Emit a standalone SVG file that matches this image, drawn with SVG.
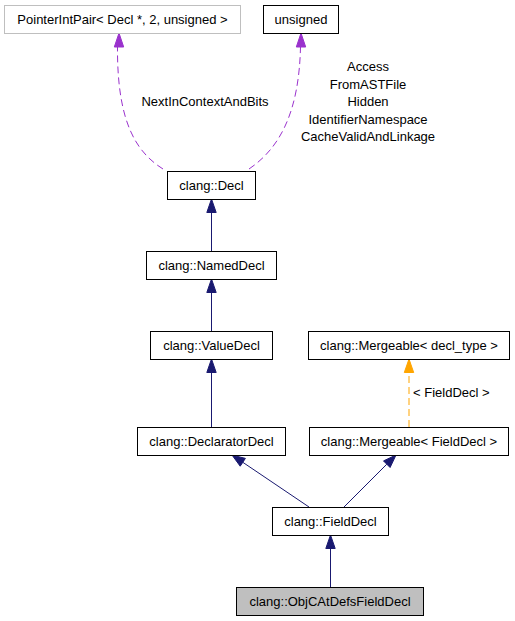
<svg xmlns="http://www.w3.org/2000/svg" width="515" height="621" viewBox="0 0 515 621">
<style>
text{font-family:"Liberation Sans",Arial,sans-serif;font-size:13px;fill:#000}
.n text{text-anchor:middle}
.box{fill:#fff;stroke:#000;stroke-width:1}
.gray{stroke:#bfbfbf}
.cur{fill:#bfbfbf}
.inh{stroke:#191970;fill:none;stroke-width:1}
.inhh{fill:#191970;stroke:#191970}
.use{stroke:#9a32cd;fill:none;stroke-dasharray:7,4}
.useh{fill:#9a32cd;stroke:#9a32cd}
.tpl{stroke:#ffa500;fill:none;stroke-dasharray:7,4}
.tplh{fill:#ffa500;stroke:#ffa500}
.lbl{text-anchor:middle}
</style>
<rect width="515" height="621" fill="#fff"/>
<g id="edges">
  <path class="use" d="M163,169 C136,152 117,122 117.5,47"/>
  <polygon class="useh" points="119,33 114.3,47 123.7,47"/>
  <text x="205" y="106" class="lbl">NextInContextAndBits</text>
  <path class="use" d="M249,169 C280,148 299,112 300.5,47"/>
  <polygon class="useh" points="301,33 296.3,47 305.7,47"/>
  <text class="lbl" x="368" y="71">Access</text>
  <text class="lbl" x="368" y="88.5">FromASTFile</text>
  <text class="lbl" x="368" y="106">Hidden</text>
  <text class="lbl" x="368" y="123.5">IdentifierNamespace</text>
  <text class="lbl" x="368" y="141">CacheValidAndLinkage</text>
  <path class="inh" d="M211.5,251 V212"/>
  <polygon class="inhh" points="211.5,199 206.8,212.5 216.2,212.5"/>
  <path class="inh" d="M211.5,331 V292"/>
  <polygon class="inhh" points="211.5,279 206.8,292.5 216.2,292.5"/>
  <path class="inh" d="M211.5,427 V372"/>
  <polygon class="inhh" points="211.5,359 206.8,372.5 216.2,372.5"/>
  <path class="tpl" d="M409,427 V372"/>
  <polygon class="tplh" points="409,359 404.3,372.5 413.7,372.5"/>
  <text x="413" y="397">&lt; FieldDecl &gt;</text>
  <path class="inh" d="M309,507 L242.8,462.3"/>
  <polygon class="inhh" points="232,455 245.4,458.4 240.2,466.2"/>
  <path class="inh" d="M344,507 L386.8,464.2"/>
  <polygon class="inhh" points="396,455 390.1,467.5 383.5,460.9"/>
  <path class="inh" d="M330.5,587 V548"/>
  <polygon class="inhh" points="330.5,535 325.8,548.5 335.2,548.5"/>
</g>
<g id="PointerIntPair" class="n"><rect class="box gray" x="4.5" y="5.5" width="236" height="28"/><text x="122.5" y="24">PointerIntPair&lt; Decl *, 2, unsigned &gt;</text></g>
<g id="unsigned" class="n"><rect class="box" x="263.5" y="5.5" width="75" height="28"/><text x="301" y="24">unsigned</text></g>
<g id="Decl" class="n"><rect class="box" x="167.5" y="171.5" width="88" height="28"/><text x="211.5" y="190">clang::Decl</text></g>
<g id="NamedDecl" class="n"><rect class="box" x="146.5" y="251.5" width="130" height="28"/><text x="211.5" y="270">clang::NamedDecl</text></g>
<g id="ValueDecl" class="n"><rect class="box" x="150.5" y="331.5" width="122" height="28"/><text x="211.5" y="350">clang::ValueDecl</text></g>
<g id="MergeableDeclType" class="n"><rect class="box" x="308.5" y="331.5" width="201" height="28"/><text x="409" y="350">clang::Mergeable&lt; decl_type &gt;</text></g>
<g id="DeclaratorDecl" class="n"><rect class="box" x="137.5" y="427.5" width="148" height="28"/><text x="211.5" y="446">clang::DeclaratorDecl</text></g>
<g id="MergeableFieldDecl" class="n"><rect class="box" x="309.5" y="427.5" width="199" height="28"/><text x="409" y="446">clang::Mergeable&lt; FieldDecl &gt;</text></g>
<g id="FieldDecl" class="n"><rect class="box" x="272.5" y="507.5" width="116" height="28"/><text x="330.5" y="526">clang::FieldDecl</text></g>
<g id="ObjCAtDefsFieldDecl" class="n"><rect class="box cur" x="236.5" y="587.5" width="187" height="28"/><text x="330" y="606">clang::ObjCAtDefsFieldDecl</text></g>
</svg>
